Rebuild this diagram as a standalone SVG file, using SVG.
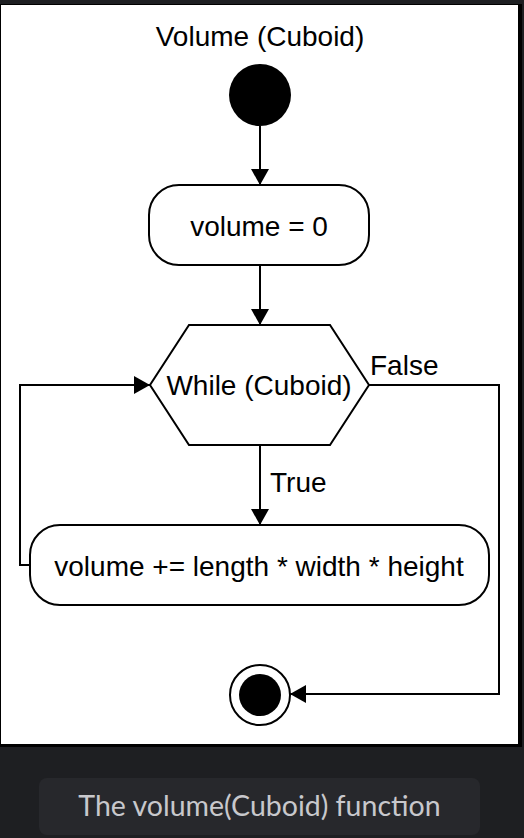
<svg xmlns="http://www.w3.org/2000/svg" width="524" height="838" viewBox="0 0 524 838">
  <defs>
    <marker id="arrow" viewBox="0 0 16 18" refX="16" refY="9" markerWidth="16" markerHeight="18" markerUnits="userSpaceOnUse" orient="auto">
      <path d="M0,0 L16,9 L0,18 Z" fill="#000"/>
    </marker>
    <style>
      .lbl { font-family: "Liberation Sans", Arial, sans-serif; font-size: 28px; fill: #000; }
      .shape { fill: #fff; stroke: #000; stroke-width: 2; }
      .edge { fill: none; stroke: #000; stroke-width: 2; }
      .cap { font-family: Lato, "Open Sans", sans-serif; font-size: 28.5px; fill: #c8c8cc; }
    </style>
  </defs>
  <rect x="0" y="0" width="524" height="838" fill="#1e1f22"/>
  <rect x="0" y="4" width="522" height="743" fill="#000"/>
  <rect x="1" y="5" width="517" height="739" fill="#fff"/>

  <text class="lbl" x="260" y="46" text-anchor="middle">Volume (Cuboid)</text>

  <g id="connectors">
    <line class="edge" x1="260" y1="126" x2="260" y2="185" marker-end="url(#arrow)"/>
    <line class="edge" x1="260" y1="265" x2="260" y2="325" marker-end="url(#arrow)"/>
    <line class="edge" x1="260" y1="445" x2="260" y2="525" marker-end="url(#arrow)"/>
    <polyline class="edge" points="30,565 20,565 20,385 150,385" marker-end="url(#arrow)"/>
    <polyline class="edge" points="369,385 499,385 499,694 290,694" marker-end="url(#arrow)"/>
    <text class="lbl" x="270" y="492">True</text>
    <text class="lbl" x="370" y="375">False</text>
  </g>

  <g id="start">
    <circle cx="260" cy="95" r="31" fill="#000"/>
  </g>

  <g id="init">
    <rect class="shape" x="149" y="185" width="220" height="80" rx="30" ry="30"/>
    <text class="lbl" x="259" y="236" text-anchor="middle">volume = 0</text>
  </g>

  <g id="loop">
    <polygon class="shape" points="189,325 330,325 369,385 330,445 189,445 150,385"/>
    <text class="lbl" x="259" y="395" text-anchor="middle">While (Cuboid)</text>
  </g>

  <g id="accumulate">
    <rect class="shape" x="30" y="525" width="459" height="80" rx="30" ry="30"/>
    <text class="lbl" x="259" y="576" text-anchor="middle">volume += length * width * height</text>
  </g>

  <g id="end">
    <circle cx="260" cy="695" r="30" fill="#fff" stroke="#000" stroke-width="2"/>
    <circle cx="260" cy="695" r="21" fill="#000"/>
  </g>

  <rect x="39" y="778" width="441" height="57" rx="8" ry="8" fill="#27282c"/>
  <text class="cap" x="259.5" y="816" text-anchor="middle">The volume(Cuboid) function</text>
</svg>
